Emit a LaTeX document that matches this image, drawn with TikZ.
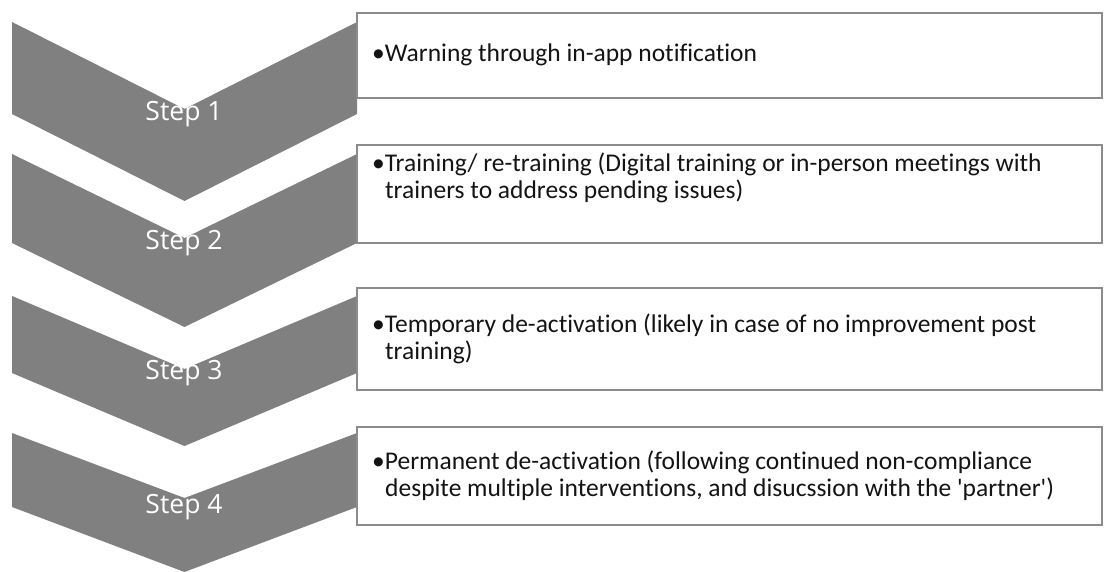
\documentclass[tikz,border=0pt]{standalone}
\usepackage{fontspec}
\newfontfamily\boxfont[Ligatures=NoCommon]{Carlito}
\newfontfamily\stepfont{Open Sans}
\definecolor{chevfill}{RGB}{128,128,128}
\definecolor{boxline}{RGB}{140,140,140}
\definecolor{bodytext}{RGB}{20,20,20}
\tikzset{
  chev/.style={fill=chevfill},
  itembox/.style={draw=boxline, line width=1.6pt, fill=white},
  steplabel/.style={text=white, font=\stepfont\fontsize{26.5}{30}\selectfont,
    inner sep=0pt, anchor=base},
  itemtext/.style={text=bodytext, font=\boxfont\fontsize{25.5}{27}\selectfont,
    inner sep=0pt, anchor=base west},
}
% downward chevron: #1 top edge, #2 bottom edge, #3 notch depth
\newcommand\drawchev[3]{%
  \fill[chev] (12,#1) -- (184.5,#1+#3) -- (357,#1) -- (357,#2)
    -- (184.5,#2+#3) -- (12,#2) -- cycle;
}
\begin{document}
\begin{tikzpicture}[x=1pt,y=-1pt]
  \useasboundingbox[fill=white] (0,0) rectangle (1106,572);

  % chevrons
  \drawchev{22}{114}{87}
  \drawchev{154}{243}{84}
  \drawchev{296}{373}{73}
  \drawchev{433}{507}{65}

  \node[steplabel] (s1) at (184,121) {Step 1};
  \node[steplabel] (s2) at (184,250) {Step 2};
  \node[steplabel] (s3) at (184,379) {Step 3};
  \node[steplabel] (s4) at (184,513) {Step 4};

  % description boxes
  \draw[itembox] (357,13) rectangle (1102,98);
  \draw[itembox] (357,145) rectangle (1102,243);
  \draw[itembox] (357,288) rectangle (1102,390);
  \draw[itembox] (357,427) rectangle (1102,525);

  \node[itemtext] (t1a) at (372,62) {•Warning through in-app notification};

  \node[itemtext] (t2a) at (372,172) {•Training/ re-training (Digital training or in-person meetings with};
  \node[itemtext] (t2b) at (385,199) {trainers to address pending issues)};

  \node[itemtext] (t3a) at (372,332) {•Temporary de-activation (likely in case of no improvement post};
  \node[itemtext] (t3b) at (385,359) {training)};

  \node[itemtext] (t4a) at (372,469) {•Permanent de-activation (following continued non-compliance};
  \node[itemtext] (t4b) at (385,496) {despite multiple interventions, and disucssion with the 'partner')};
\end{tikzpicture}
\end{document}
